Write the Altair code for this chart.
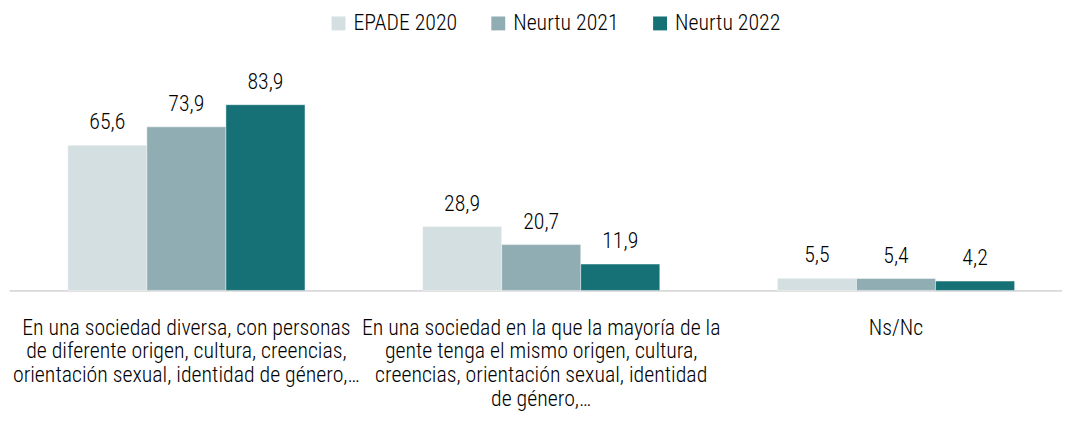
import altair as alt
import pandas as pd

categories = [
    "En una sociedad diversa, con personas|de diferente origen, cultura, creencias,|orientación sexual, identidad de género,…",
    "En una sociedad en la que la mayoría de la|gente tenga el mismo origen, cultura,|creencias, orientación sexual, identidad|de género,…",
    "Ns/Nc",
]
series = ["EPADE 2020", "Neurtu 2021", "Neurtu 2022"]
epade_2020 = [65.6, 28.9, 5.5]
neurtu_2021 = [73.9, 20.7, 5.4]
neurtu_2022 = [83.9, 11.9, 4.2]
colors = ["#d4dfe1", "#91adb4", "#167177"]
labels_txt = {
    "EPADE 2020": ["65,6", "28,9", "5,5"],
    "Neurtu 2021": ["73,9", "20,7", "5,4"],
    "Neurtu 2022": ["83,9", "11,9", "4,2"],
}

rows = []
for s, vals in zip(series, [epade_2020, neurtu_2021, neurtu_2022]):
    for i, (c, v) in enumerate(zip(categories, vals)):
        rows.append({"cat": c, "serie": s, "valor": v, "txt": labels_txt[s][i]})
df = pd.DataFrame(rows)

FONT = "Roboto Condensed, Liberation Sans Narrow, Arial Narrow, sans-serif"
WEIGHT = 300

x_enc = alt.X(
    "cat:N",
    sort=categories,
    scale=alt.Scale(paddingInner=0.3315, paddingOuter=0.14965, align=0.5537),
    axis=alt.Axis(
        title=None,
        labelAngle=0,
        labelExpr="split(datum.label, '|')",
        labelFont=FONT,
        labelFontSize=22,
        labelFontWeight=WEIGHT,
        labelColor="#000000",
        labelLineHeight=24,
        labelPadding=27,
        labelBaseline="top",
        ticks=False,
        tickSize=0,
        domainColor="#d9d9d9",
        domainWidth=1.8,
        labelLimit=500,
    ),
)
y_enc = alt.Y("valor:Q", scale=alt.Scale(domain=[0, 100], nice=False, zero=True), axis=None)
xo_enc = alt.XOffset("serie:N", sort=series, scale=alt.Scale(paddingInner=0, paddingOuter=0))

bars = alt.Chart(df).mark_bar(stroke="white", strokeWidth=0.6, strokeOpacity=0.7).encode(
    x=x_enc,
    xOffset=xo_enc,
    y=y_enc,
    color=alt.Color(
        "serie:N",
        sort=series,
        scale=alt.Scale(domain=series, range=colors),
        legend=alt.Legend(
            title=None,
            orient="none",
            direction="horizontal",
            legendX=321,
            legendY=-57,
            symbolType="square",
            symbolSize=196,
            symbolStrokeWidth=0,
            labelFont=FONT,
            labelFontSize=22,
            labelFontWeight=WEIGHT,
            labelColor="#000000",
            labelOffset=4,
            columnPadding=30,
            padding=0,
        ),
    ),
)

text = alt.Chart(df).mark_text(
    font=FONT, fontSize=22, fontWeight=WEIGHT, color="#000000", baseline="alphabetic", dy=-16
).encode(x=x_enc, xOffset=xo_enc, y=y_enc, text="txt:N")

chart = (
    (bars + text)
    .properties(
        width=1061,
        height=223,
        autosize=alt.AutoSizeParams(type="none"),
        padding={"left": 1, "top": 60, "right": 0, "bottom": 127},
        background="white",
    )
    .configure_view(stroke=None)
)

chart.save("out.html", embed_options={"renderer": "svg", "actions": False})
